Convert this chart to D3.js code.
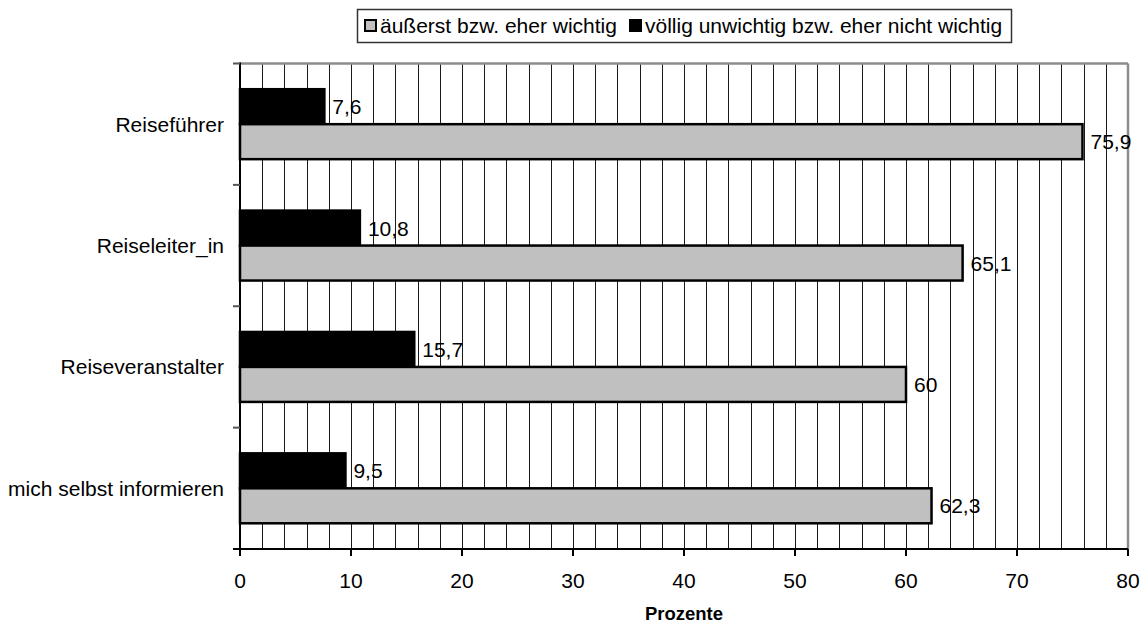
<!DOCTYPE html>
<html>
<head>
<meta charset="utf-8">
<script src="https://cdn.jsdelivr.net/npm/d3@7"></script>
<style>
  html, body { margin: 0; padding: 0; background: #fff; }
  svg { display: block; font-family: "Liberation Sans", Arial, sans-serif; }
</style>
</head>
<body>
<svg id="chart" width="1146" height="626"></svg>
<script>
const categories = ["Reiseführer", "Reiseleiter_in", "Reiseveranstalter", "mich selbst informieren"];
const wichtig = [75.9, 65.1, 60, 62.3];
const unwichtig = [7.6, 10.8, 15.7, 9.5];
const seriesNames = ["äußerst bzw. eher wichtig", "völlig unwichtig bzw. eher nicht wichtig"];
const xTicks = [0, 10, 20, 30, 40, 50, 60, 70, 80];
const axisTitle = "Prozente";

(function () {
const fmt = v => String(v).replace(".", ",");
const FS = 21;

const svg = d3.select("#chart");
const pL = 240, pR = 1128, pT = 63.5, pB = 549;

const x = d3.scaleLinear().domain([0, 80]).range([pL, pR]);
const y = d3.scaleBand().domain(categories).range([pT, pB]).paddingInner(0).paddingOuter(0);
const inner = d3.scaleBand().domain([1, 0]).range([0, y.bandwidth()]).paddingInner(0).paddingOuter(0.735);

// gridlines every 2
const grid = d3.range(2, 80, 2);
svg.append("g").selectAll("line").data(grid).join("line")
  .attr("x1", d => Math.round(x(d)) + 0.5).attr("x2", d => Math.round(x(d)) + 0.5)
  .attr("y1", pT).attr("y2", pB)
  .attr("stroke", "#1a1a1a").attr("stroke-width", 1);

// plot frame top & right (gray)
svg.append("line").attr("x1", pL).attr("x2", pR).attr("y1", pT).attr("y2", pT)
  .attr("stroke", "#8c8c8c").attr("stroke-width", 2.5);
svg.append("line").attr("x1", pR).attr("x2", pR).attr("y1", pT).attr("y2", pB)
  .attr("stroke", "#8c8c8c").attr("stroke-width", 2.5);

// bars
const rows = categories.map((c, i) => ({ c, vals: [wichtig[i], unwichtig[i]] }));
const g = svg.append("g");
rows.forEach(r => {
  [1, 0].forEach(k => {
    const v = r.vals[k];
    const by = y(r.c) + inner(k);
    g.append("rect")
      .attr("x", x(0)).attr("y", by)
      .attr("width", x(v) - x(0)).attr("height", inner.bandwidth())
      .attr("fill", k === 0 ? "#c0c0c0" : "#000")
      .attr("stroke", "#000").attr("stroke-width", 2.5);
    g.append("text")
      .attr("x", x(v) + 8).attr("y", by + inner.bandwidth() / 2 + 7.5)
      .attr("font-size", FS).attr("fill", "#000")
      .text(fmt(v));
  });
});

// y axis
const yAxis = svg.append("g");
yAxis.append("line").attr("x1", pL).attr("x2", pL).attr("y1", pT - 1).attr("y2", pB)
  .attr("stroke", "#000").attr("stroke-width", 2);
const yTickPos = categories.map(c => y(c)).concat([pB]);
yAxis.selectAll("line.t").data(yTickPos).join("line").attr("class", "t")
  .attr("x1", pL - 7).attr("x2", pL).attr("y1", d => d).attr("y2", d => d)
  .attr("stroke", "#555").attr("stroke-width", 2);
yAxis.selectAll("text").data(categories).join("text")
  .attr("x", 224).attr("y", d => y(d) + y.bandwidth() / 2 + 7.5)
  .attr("text-anchor", "end").attr("font-size", FS).attr("fill", "#000")
  .text(d => d);

// x axis
const xAxis = svg.append("g");
xAxis.append("line").attr("x1", pL - 7).attr("x2", pR).attr("y1", pB).attr("y2", pB)
  .attr("stroke", "#000").attr("stroke-width", 2);
xAxis.selectAll("line.t").data(xTicks).join("line").attr("class", "t")
  .attr("x1", d => x(d)).attr("x2", d => x(d)).attr("y1", pB).attr("y2", pB + 7)
  .attr("stroke", "#000").attr("stroke-width", 2);
xAxis.selectAll("text").data(xTicks).join("text")
  .attr("x", d => x(d)).attr("y", 588)
  .attr("text-anchor", "middle").attr("font-size", FS).attr("fill", "#000")
  .text(d => d);

svg.append("text").attr("x", (pL + pR) / 2).attr("y", 620)
  .attr("text-anchor", "middle").attr("font-size", 18.5).attr("font-weight", "bold")
  .text(axisTitle);

// legend
const lg = svg.append("g");
lg.append("rect").attr("x", 357.5).attr("y", 9.5).attr("width", 654).attr("height", 33)
  .attr("fill", "#fff").attr("stroke", "#333").attr("stroke-width", 1.5);
const legendItems = [
  { name: seriesNames[0], fill: "#c0c0c0", mx: 365, tx: 380 },
  { name: seriesNames[1], fill: "#000", mx: 630, tx: 645 }
];
legendItems.forEach(it => {
  lg.append("rect").attr("x", it.mx).attr("y", 20).attr("width", 11).attr("height", 11)
    .attr("fill", it.fill).attr("stroke", "#000").attr("stroke-width", 2);
  lg.append("text").attr("x", it.tx).attr("y", 32.5).attr("font-size", FS).attr("fill", "#000")
    .text(it.name);
});
})();
</script>
</body>
</html>
